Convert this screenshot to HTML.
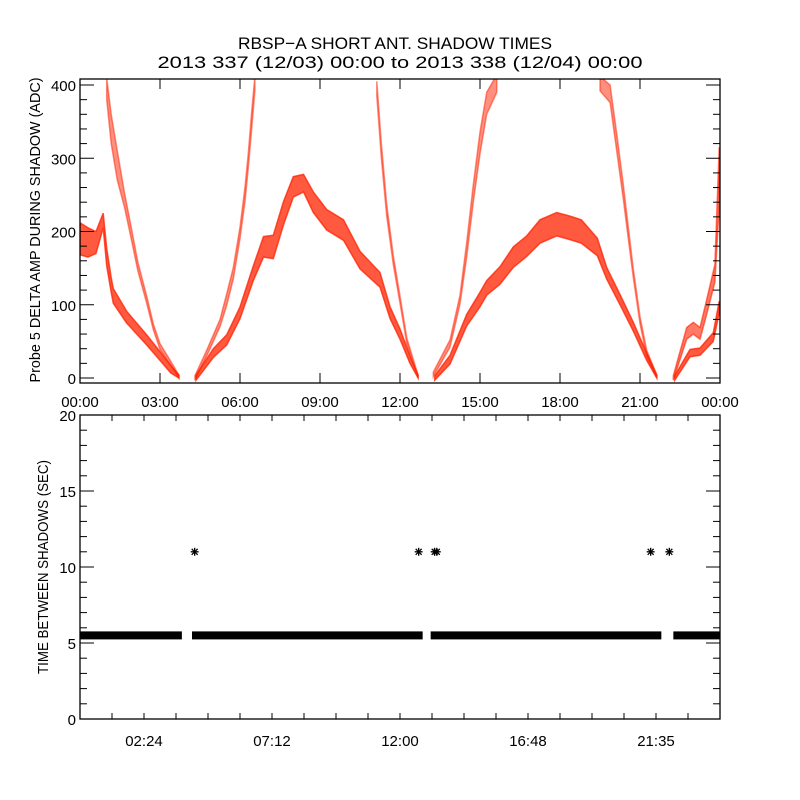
<!DOCTYPE html>
<html><head><meta charset="utf-8"><style>
html,body{margin:0;padding:0;background:#fff;}
svg{display:block;font-family:"Liberation Sans",sans-serif;}
</style></head><body>
<svg id="chart" width="800" height="800" viewBox="0 0 800 800" xmlns="http://www.w3.org/2000/svg">
<rect width="800" height="800" fill="#fff"/>
<text x="395" y="49" font-size="17" text-anchor="middle" textLength="314" lengthAdjust="spacingAndGlyphs">RBSP−A SHORT ANT. SHADOW TIMES</text>
<text x="400" y="68" font-size="17" text-anchor="middle" textLength="485" lengthAdjust="spacingAndGlyphs">2013 337 (12/03) 00:00 to 2013 338 (12/04) 00:00</text>
<g id="topPanel"></g>
<g id="botPanel"></g>
<text transform="translate(40,230) rotate(-90)" font-size="15" text-anchor="middle" textLength="305" lengthAdjust="spacingAndGlyphs">Probe 5 DELTA AMP DURING SHADOW (ADC)</text>
<text transform="translate(48,567) rotate(-90)" font-size="15" text-anchor="middle" textLength="214" lengthAdjust="spacingAndGlyphs">TIME BETWEEN SHADOWS (SEC)</text>
</svg>
<script>
// ---- top panel data: branches (hours, ADC value, half-spread) ----
const brA_t=[0,0.3,0.6,0.87,1.0,1.17,1.25,1.75,2.5,3.0,3.4,3.71];
const brA_v=[190,185,185,215,165,127,112,83,52,30,12,2];
const brA_w=[22,20,15,10,12,10,10,8,7,6,5,2];
const brB_t=[1.0,1.17,1.4,1.67,1.92,2.17,2.5,2.75,3.0,3.4,3.71];
const brB_v=[395,340,290,243,198,152,107,70,43,20,2];
const brB_w=[15,20,20,10,8,6,5,4,4,3,2];
const brC_t=[4.31,4.75,5.25,5.5,5.75,6.0,6.19,6.31,6.44,6.56];
const brC_v=[0,34,75,107,143,198,252,297,352,402];
const brC_w=[3,4,5,8,8,8,10,10,12,10];
const brD_t=[4.35,5.0,5.5,6.0,6.5,6.88,7.25,7.63,8.0,8.38,8.75,9.25,9.88,10.5,11.25,11.63,12.0,12.375,12.68];
const brD_v=[0,34,52,89,143,179,179,225,261,266,240,216,202,161,134,89,60,25,2];
const brD_w=[4,6,7,8,10,14,16,16,14,12,14,14,14,12,10,8,7,5,2];
const brE_t=[11.13,11.3,11.5,11.75,12.0,12.26,12.68];
const brE_v=[395,311,229,161,107,50,2];
const brE_w=[10,10,8,6,5,4,2];
const brF_t=[13.25,13.875,14.25,14.5,14.75,15.0,15.25,15.63];
const brF_v=[5,47,107,175,252,321,375,402];
const brF_w=[3,5,6,10,12,15,15,12];
const brG_t=[13.3,13.875,14.5,15.0,15.25,15.75,16.25,16.75,17.25,17.875,18.375,18.8,19.4,19.75,20.25,20.75,21.25,21.63];
const brG_v=[0,25,79,107,123,140,165,180,200,210,205,200,179,143,107,70,29,2];
const brG_w=[3,6,8,10,10,12,14,14,16,16,16,16,12,8,7,6,5,2];
const brH_t=[19.5,19.88,20.13,20.38,20.56,20.75,21.0,21.25,21.63];
const brH_v=[402,388,321,252,198,143,79,34,2];
const brH_w=[10,12,12,10,8,6,5,4,2];
const brI_t=[22.25,22.75,23.0,23.25,23.5,23.81,23.97];
const brI_v=[0,61,68,61,97,143,275];
const brI_w=[3,8,8,8,10,12,40];
const brJ_t=[22.3,22.875,23.25,23.75,23.97];
const brJ_v=[0,34,36,56,97];
const brJ_w=[3,5,5,6,8];
const topTicks=[0,100,200,300,400];
const topTimeLabels=["00:00","03:00","06:00","09:00","12:00","15:00","18:00","21:00","00:00"];
// ---- bottom panel data ----
const segStart=[0.0,4.2,13.15,22.25];
const segEnd=[3.82,12.85,21.8,24.0];
const segValue=[5.5,5.5,5.5,5.5];
const outT=[4.3,12.7,13.3,13.38,21.4,22.1];
const outV=[11,11,11,11,11,11];
const botTicks=[0,5,10,15,20];
const botTimeLabels=["02:24","07:12","12:00","16:48","21:35"];

(function(){
const NS="http://www.w3.org/2000/svg";
function mk(tag,attrs,parent){const e=document.createElementNS(NS,tag);for(const k in attrs)e.setAttribute(k,attrs[k]);parent.appendChild(e);return e;}
const X0=80,X1=720;
const xT=h=>X0+h*(X1-X0)/24;
const yTop=v=>378-v*0.7325;
const yBot=v=>719-v*15.2;
const topG=document.getElementById('topPanel'),botG=document.getElementById('botPanel');

const defs=mk('defs',{},document.getElementById('chart'));
const cp=mk('clipPath',{id:'cpTop'},defs);mk('rect',{x:80,y:79,width:640,height:304},cp);

const branches=[[brA_t,brA_v,brA_w,0.75],[brB_t,brB_v,brB_w,0.5],[brC_t,brC_v,brC_w,0.5],[brD_t,brD_v,brD_w,0.75],[brE_t,brE_v,brE_w,0.5],[brF_t,brF_v,brF_w,0.5],[brG_t,brG_v,brG_w,0.75],[brH_t,brH_v,brH_w,0.5],[brI_t,brI_v,brI_w,0.6],[brJ_t,brJ_v,brJ_w,0.75]];
const gB=mk('g',{'clip-path':'url(#cpTop)'},topG);
branches.forEach((b)=>{
  const [t,v,w,op]=b;
  let up=[],lo=[];
  for(let k=0;k<t.length;k++){up.push(xT(t[k]).toFixed(1)+','+yTop(v[k]+w[k]).toFixed(1));lo.unshift(xT(t[k]).toFixed(1)+','+yTop(Math.max(-3,v[k]-w[k])).toFixed(1));}
  const p=mk('polygon',{points:up.concat(lo).join(' '),fill:'#ff2200','fill-opacity':op,stroke:'#ff2200','stroke-width':1.5,'stroke-opacity':op},gB);
  
  
});
const fr=mk('rect',{x:80,y:79,width:640,height:304,fill:'none',stroke:'#000','stroke-width':1.3},topG);


for(let v=0;v<=400;v+=20){const y=yTop(v),L=(v%100===0)?14:7;
  mk('line',{x1:80,y1:y,x2:80+L,y2:y,stroke:'#000'},topG);mk('line',{x1:720,y1:y,x2:720-L,y2:y,stroke:'#000'},topG);}
topTicks.forEach(v=>{const t=mk('text',{x:76,y:yTop(v)+6,'font-size':15,'text-anchor':'end'},topG);t.textContent=v;
  
  });
topTimeLabels.forEach((s,i)=>{const x=xT(i*3);
  mk('line',{x1:x,y1:383,x2:x,y2:373,stroke:'#000'},topG);mk('line',{x1:x,y1:79,x2:x,y2:89,stroke:'#000'},topG);
  const t=mk('text',{x:x,y:407,'font-size':15,'text-anchor':'middle'},topG);t.textContent=s;
  
  });

segStart.forEach((s,i)=>{const yc=yBot(segValue[i]);
  const r=mk('rect',{x:xT(s),y:yc-4,width:xT(segEnd[i])-xT(s),height:8,fill:'#000'},botG);
  
  });
outT.forEach((t,i)=>{const x=xT(t),y=yBot(outV[i]);
  const g=mk('g',{stroke:'#000','stroke-width':1.3},botG);
  
  
  mk('line',{x1:x-4,y1:y,x2:x+4,y2:y},g);mk('line',{x1:x,y1:y-4,x2:x,y2:y+4},g);
  mk('line',{x1:x-3,y1:y-3,x2:x+3,y2:y+3},g);mk('line',{x1:x-3,y1:y+3,x2:x+3,y2:y-3},g);});
const fr2=mk('rect',{x:80,y:415,width:640,height:304,fill:'none',stroke:'#000','stroke-width':1.3},botG);


for(let v=0;v<=20;v++){const y=yBot(v),L=(v%5===0)?14:7;
  mk('line',{x1:80,y1:y,x2:80+L,y2:y,stroke:'#000'},botG);mk('line',{x1:720,y1:y,x2:720-L,y2:y,stroke:'#000'},botG);}
botTicks.forEach(v=>{const t=mk('text',{x:76,y:yBot(v)+6,'font-size':15,'text-anchor':'end'},botG);t.textContent=v;
  
  });
for(let k=1;k<20;k++){const x=xT(k*1.2);
  mk('line',{x1:x,y1:719,x2:x,y2:713,stroke:'#000'},botG);mk('line',{x1:x,y1:415,x2:x,y2:421,stroke:'#000'},botG);}
botTimeLabels.forEach((s,i)=>{const x=xT(2.4+i*4.8);
  const t=mk('text',{x:x,y:746,'font-size':15,'text-anchor':'middle'},botG);t.textContent=s;
  
  });
})();
</script>
</body></html>
